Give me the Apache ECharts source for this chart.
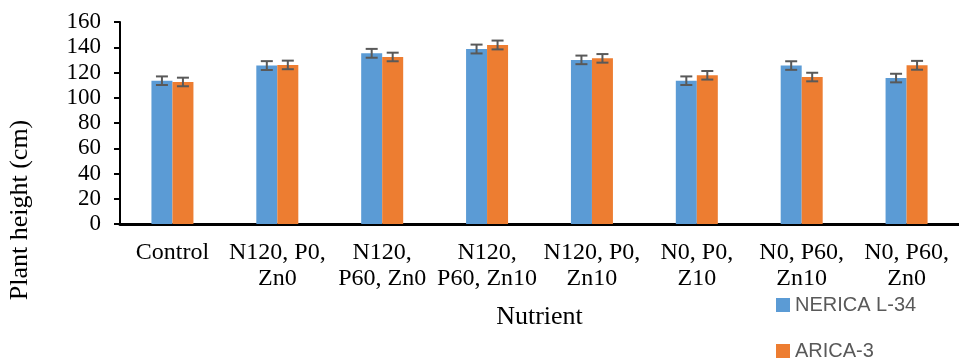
<!DOCTYPE html>
<html>
<head>
<meta charset="utf-8">
<script src="https://cdn.jsdelivr.net/npm/echarts@6/dist/echarts.min.js"></script>
<style>
html,body{margin:0;padding:0;background:#fff;}
#chart{width:959px;height:359px;}
</style>
</head>
<body>
<div id="chart"></div>
<script>
const categories = ["Control", "N120, P0,\nZn0", "N120,\nP60, Zn0", "N120,\nP60, Zn10", "N120, P0,\nZn10", "N0, P0,\nZ10", "N0, P60,\nZn10", "N0, P60,\nZn0"];
const nericaValues = [113.5, 125.5, 135.2, 138.6, 130, 113.5, 125.5, 115.6];
const aricaValues = [112.5, 126, 132.3, 141.8, 131.2, 117.8, 116.4, 125.7];
const nericaErr = [3.4, 3.5, 3.5, 3.5, 3.4, 3.4, 3.4, 3.4];
const aricaErr = [3.4, 3.4, 3.4, 3.5, 3.4, 3.4, 3.4, 3.5];
const yTicks = [0, 20, 40, 60, 80, 100, 120, 140, 160];
const seriesNames = ['NERICA L-34', 'ARICA-3'];

const BAR_W = 21;
const serif = "'Liberation Serif','Times New Roman',serif";
const legendText = { fontFamily: "'Liberation Sans',Arial,sans-serif", fontSize: 20, color: '#595959' };

function errData(vals, errs) {
  return vals.map((v, i) => [i, v - errs[i], v + errs[i]]);
}
function errRender(offset) {
  return function (params, api) {
    const i = api.value(0);
    const lo = api.coord([i, api.value(1)]);
    const hi = api.coord([i, api.value(2)]);
    const x = lo[0] + offset;
    const hw = 6;
    const style = { stroke: '#595959', lineWidth: 2 };
    return {
      type: 'group',
      children: [
        { type: 'line', shape: { x1: x, y1: lo[1], x2: x, y2: hi[1] }, style },
        { type: 'line', shape: { x1: x - hw, y1: lo[1], x2: x + hw, y2: lo[1] }, style },
        { type: 'line', shape: { x1: x - hw, y1: hi[1], x2: x + hw, y2: hi[1] }, style }
      ]
    };
  };
}

const chart = echarts.init(document.getElementById('chart'), null, { renderer: 'canvas' });
chart.setOption({
  backgroundColor: '#ffffff',
  animation: false,
  grid: { left: 120, top: 22, width: 846, height: 202, containLabel: false },
  legend: [
    {
      orient: 'horizontal', left: 776, top: 295, padding: 0,
      itemWidth: 14, itemHeight: 14, icon: 'rect', selectedMode: false,
      data: [seriesNames[0]], textStyle: legendText
    },
    {
      orient: 'horizontal', left: 776, top: 341, padding: 0,
      itemWidth: 14, itemHeight: 14, icon: 'rect', selectedMode: false,
      data: [seriesNames[1]], textStyle: legendText
    }
  ],
  xAxis: {
    type: 'category',
    data: categories,
    name: 'Nutrient',
    nameLocation: 'middle',
    nameGap: 80,
    nameTextStyle: { fontFamily: serif, fontSize: 26, color: '#000' },
    axisLine: { show: true, lineStyle: { color: '#000', width: 3 } },
    axisTick: { show: false },
    axisLabel: {
      interval: 0,
      margin: 16,
      fontFamily: serif,
      fontSize: 24,
      lineHeight: 26,
      color: '#000',
      align: 'center'
    }
  },
  yAxis: {
    type: 'value',
    min: 0,
    max: 160,
    interval: 20,
    axisLine: { show: true, lineStyle: { color: '#000', width: 2 } },
    axisTick: { show: true, inside: false, length: 6, lineStyle: { color: '#000', width: 2 } },
    splitLine: { show: false },
    axisLabel: {
      margin: 19,
      fontFamily: serif,
      fontSize: 23,
      color: '#000',
      formatter: function (v) { return yTicks.indexOf(v) >= 0 ? String(v) : ''; }
    }
  },
  graphic: [{
    type: 'text',
    x: 20,
    y: 210,
    rotation: Math.PI / 2,
    style: {
      text: 'Plant height (cm)',
      font: "26px 'Liberation Serif','Times New Roman',serif",
      fill: '#000',
      align: 'center',
      verticalAlign: 'middle'
    }
  }],
  series: [
    {
      name: seriesNames[0],
      type: 'bar',
      data: nericaValues,
      barWidth: BAR_W,
      barGap: '0%',
      itemStyle: { color: '#5B9BD5' },
      z: 2
    },
    {
      name: seriesNames[1],
      type: 'bar',
      data: aricaValues,
      barWidth: BAR_W,
      barGap: '0%',
      itemStyle: { color: '#ED7D31' },
      z: 2
    },
    {
      name: 'errN',
      type: 'custom',
      renderItem: errRender(-BAR_W / 2),
      data: errData(nericaValues, nericaErr),
      encode: { x: 0, y: [1, 2] },
      z: 5
    },
    {
      name: 'errA',
      type: 'custom',
      renderItem: errRender(BAR_W / 2),
      data: errData(aricaValues, aricaErr),
      encode: { x: 0, y: [1, 2] },
      z: 5
    }
  ]
});
</script>
</body>
</html>
